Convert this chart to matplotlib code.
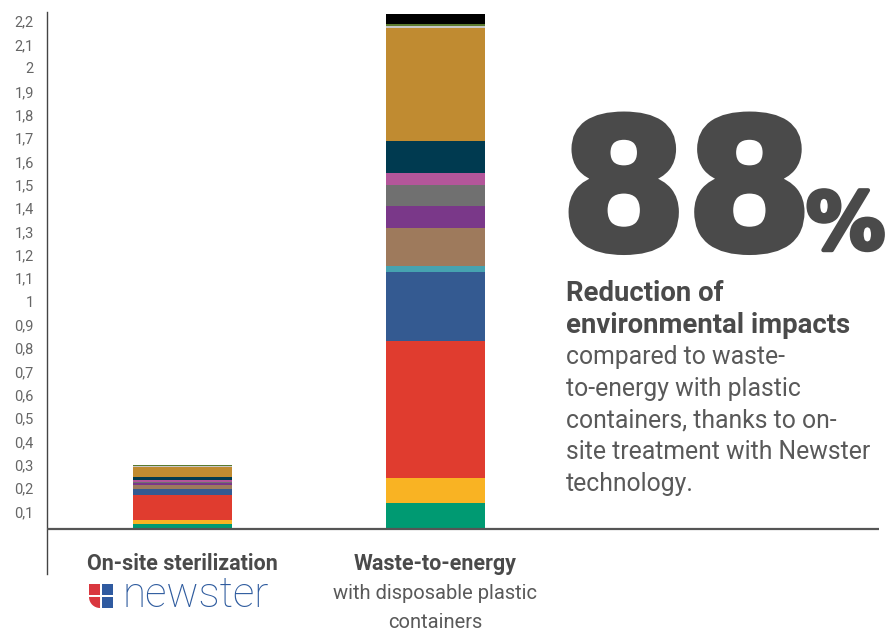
import numpy as np
import matplotlib.pyplot as plt
import matplotlib.patheffects as pe
from matplotlib.patches import Rectangle, Wedge
from matplotlib.transforms import ScaledTranslation, blended_transform_factory

plt.rcParams['font.family'] = ['Roboto', 'DejaVu Sans']

# stacked impact layers, bottom to top
bar_positions = [0, 1]
onsite = [0.021, 0.017, 0.108, 0.024, 0.003, 0.014, 0.009, 0.006, 0.008, 0.013, 0.044, 0.003, 0.003, 0.001]
waste_to_energy = [0.111, 0.108, 0.586, 0.296, 0.026, 0.163, 0.094, 0.090, 0.051, 0.137, 0.484, 0.009, 0.009, 0.043]
layer_colors = ['#009A72', '#F9B323', '#E03C2F', '#345A91', '#46A3B0', '#9E7A5C', '#7A3889',
                '#707070', '#B3569A', '#003A50', '#C08B31', '#C8C8C8', '#5B7A2E', '#000000']

y_ticks = [0.1, 0.2, 0.3, 0.4, 0.5, 0.6, 0.7, 0.8, 0.9, 1, 1.1, 1.2, 1.3, 1.4, 1.5, 1.6, 1.7, 1.8, 1.9, 2, 2.1, 2.2]
y_labels = [f"{t:g}".replace('.', ',') for t in y_ticks]

W, H = 887, 631
fig = plt.figure(figsize=(W / 100, H / 100), dpi=100)
ax = fig.add_axes([47 / W, 1 - 574 / H, (879 - 47) / W, (574 - 12) / H])
ax.set_xlim(-0.5356, 2.753)
ax.set_ylim(-0.193, 2.214)

bottoms = np.zeros(2)
for i, c in enumerate(layer_colors):
    heights = np.array([onsite[i], waste_to_energy[i]])
    ax.bar(bar_positions, heights, bottom=bottoms, width=0.391, color=c, linewidth=0)
    bottoms += heights

ax.axhline(0, color='#555555', lw=1.6, zorder=3)
for s in ['top', 'right', 'bottom']:
    ax.spines[s].set_visible(False)
ax.spines['left'].set_color('#444444')
ax.spines['left'].set_linewidth(1)

ax.set_xticks([])
ax.set_yticks(y_ticks)
ax.set_yticklabels(y_labels)
ax.tick_params(axis='y', length=0, pad=9.5, labelsize=10.5, labelcolor='#666666')
shift = ScaledTranslation(0, -0.06, fig.dpi_scale_trans)
for lab in ax.get_yticklabels():
    lab.set_transform(lab.get_transform() + shift)

# category captions under the bars
tr = blended_transform_factory(ax.transData, fig.transFigure)
ax.text(0, 1 - 570 / H, 'On-site sterilization', transform=tr, ha='center', va='baseline',
        fontsize=15.5, fontweight='bold', color='#4A4A4A')
ax.text(1, 1 - 570 / H, 'Waste-to-energy', transform=tr, ha='center', va='baseline',
        fontsize=15.5, fontweight='bold', color='#4A4A4A')
ax.text(1, 1 - 599 / H, 'with disposable plastic', transform=tr, ha='center', va='baseline',
        fontsize=14.5, color='#595959')
ax.text(1, 1 - 628 / H, 'containers', transform=tr, ha='center', va='baseline',
        fontsize=14.5, color='#595959')

# newster logo
logo = fig.add_axes([89 / W, 1 - 608 / H, 24 / W, 24 / H])
logo.set_xlim(0, 2)
logo.set_ylim(0, 2)
logo.axis('off')
g = 0.08
red, blue = '#D9363E', '#2F5AA0'
logo.add_patch(Rectangle((0, 1 + g), 1 - g, 1 - g, color=red, lw=0))
logo.add_patch(Rectangle((1 + g, 1 + g), 1 - g, 1 - g, color=blue, lw=0))
logo.add_patch(Rectangle((1 + g, 0), 1 - g, 1 - g, color=blue, lw=0))
logo.add_patch(Wedge((1 - g, 1 - g), 1 - g, 180, 270, color=red, lw=0))
fig.text(123 / W, 1 - 607 / H, 'newster', fontsize=30.5, fontweight='light', color='#2E5B9E',
         ha='left', va='baseline')

# headline figure, thickened with a same-colour outline
dark = '#4A4A4A'
fig.text(561 / W, 1 - 249 / H, '88', fontsize=130, fontweight='bold', family='DejaVu Sans',
         color=dark, ha='left', va='baseline',
         path_effects=[pe.withStroke(linewidth=5, foreground=dark)])
fig.text(806 / W, 1 - 249 / H, '%', fontsize=57, fontweight='bold', family='DejaVu Sans',
         color=dark, ha='left', va='baseline',
         path_effects=[pe.withStroke(linewidth=3, foreground=dark)])

bold_lines = ['Reduction of', 'environmental impacts']
body_lines = ['compared to waste-', 'to-energy with plastic', 'containers, thanks to on-',
              'site treatment with Newster', 'technology.']
for i, line in enumerate(bold_lines + body_lines):
    bold = i < len(bold_lines)
    fig.text(566 / W, 1 - (301 + 31.67 * i) / H, line, fontsize=19.8 if bold else 17.8,
             fontweight='bold' if bold else 'normal',
             color=dark if bold else '#595959', ha='left', va='baseline')

fig.savefig('out.png', dpi=100)
